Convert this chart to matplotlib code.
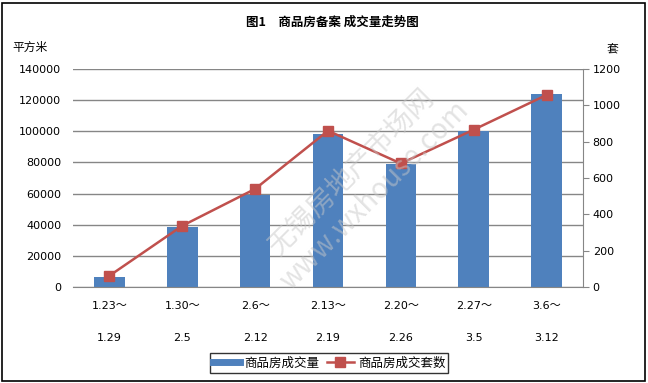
import numpy as np
import matplotlib.pyplot as plt
from matplotlib.patches import Rectangle
from matplotlib.lines import Line2D

plt.rcParams['font.family'] = ['DejaVu Sans', 'Noto Sans CJK SC']

# data
weeks = ['1.23～\n\n1.29', '1.30～\n\n2.5', '2.6～\n\n2.12', '2.13～\n\n2.19',
         '2.20～\n\n2.26', '2.27～\n\n3.5', '3.6～\n\n3.12']
area = [6500, 38300, 58900, 98000, 78900, 100400, 124000]
units = [62, 337, 540, 860, 680, 866, 1057]

cjk = ['Noto Sans CJK SC', 'DejaVu Sans']

fig = plt.figure(figsize=(6.48, 3.83), dpi=100)
ax = fig.add_axes([73 / 648, 1 - 287 / 383, 510 / 648, 218 / 383])
ax2 = ax.twinx()

x = np.arange(len(weeks))
ax.bar(x, area, width=0.42, color='#4f81bd', zorder=2)
ax2.plot(x, units, color='#c0504d', marker='s', markersize=7, lw=1.8, zorder=3)

ax.set_xlim(-0.5, len(weeks) - 0.5)
ax.set_ylim(0, 140000)
ax.set_yticks(np.arange(0, 140001, 20000))
ax2.set_ylim(0, 1200)
ax2.set_yticks(np.arange(0, 1201, 200))
ax.set_xticks(x)
ax.set_xticklabels(weeks, fontsize=8, linespacing=1.75)
ax.yaxis.grid(True, color='#868686', lw=1, zorder=0)
ax.set_axisbelow(True)

for a in (ax, ax2):
    for s in ['top', 'left']:
        a.spines[s].set_visible(False)
    a.spines['bottom'].set_color('#868686')
    a.spines['right'].set_color('#868686')
ax.spines['right'].set_visible(False)
ax2.spines['bottom'].set_visible(False)
ax.tick_params(axis='y', length=0, labelsize=8, pad=8.5)
ax.tick_params(axis='x', length=0, pad=10)
ax2.tick_params(axis='y', length=4, color='#868686', labelsize=8, pad=3)

fig.text(0.513, 1 - 22 / 383, '图1　商品房备案 成交量走势图', ha='center', va='center',
         fontsize=9, fontweight='bold', family=cjk)
fig.text(12 / 648, 1 - 47 / 383, '平方米', fontsize=8.5, va='center', family=cjk)
fig.text(612 / 648, 1 - 50 / 383, '套', fontsize=8.5, va='center', ha='center',
         family=cjk)

# watermark
fig.text(0.56, 0.52, '无锡房地产市场网\nwww.wxhouse.com', rotation=45, fontsize=20,
         color='#c8c8c8', alpha=0.5, ha='center', va='center', zorder=5,
         family=cjk, linespacing=1.1)

handles = [Line2D([], [], color='#4f81bd', lw=5),
           Line2D([], [], color='#c0504d', lw=1.8, marker='s', markersize=7)]
leg = fig.legend(handles, ['商品房成交量', '商品房成交套数'], loc='center',
                 bbox_to_anchor=(329 / 648, 1 - 363 / 383), ncol=2,
                 prop={'family': cjk, 'size': 9}, frameon=True, fancybox=False,
                 edgecolor='black', handlelength=2.2, columnspacing=0.6,
                 handletextpad=0.3, borderpad=0.25, borderaxespad=0)
leg.get_frame().set_linewidth(1)

fig.patches.append(Rectangle((2 / 648, 2 / 383), 643 / 648, 378 / 383, fill=False,
                             edgecolor='black', lw=1.2, transform=fig.transFigure))

fig.savefig('out.png', dpi=100)
